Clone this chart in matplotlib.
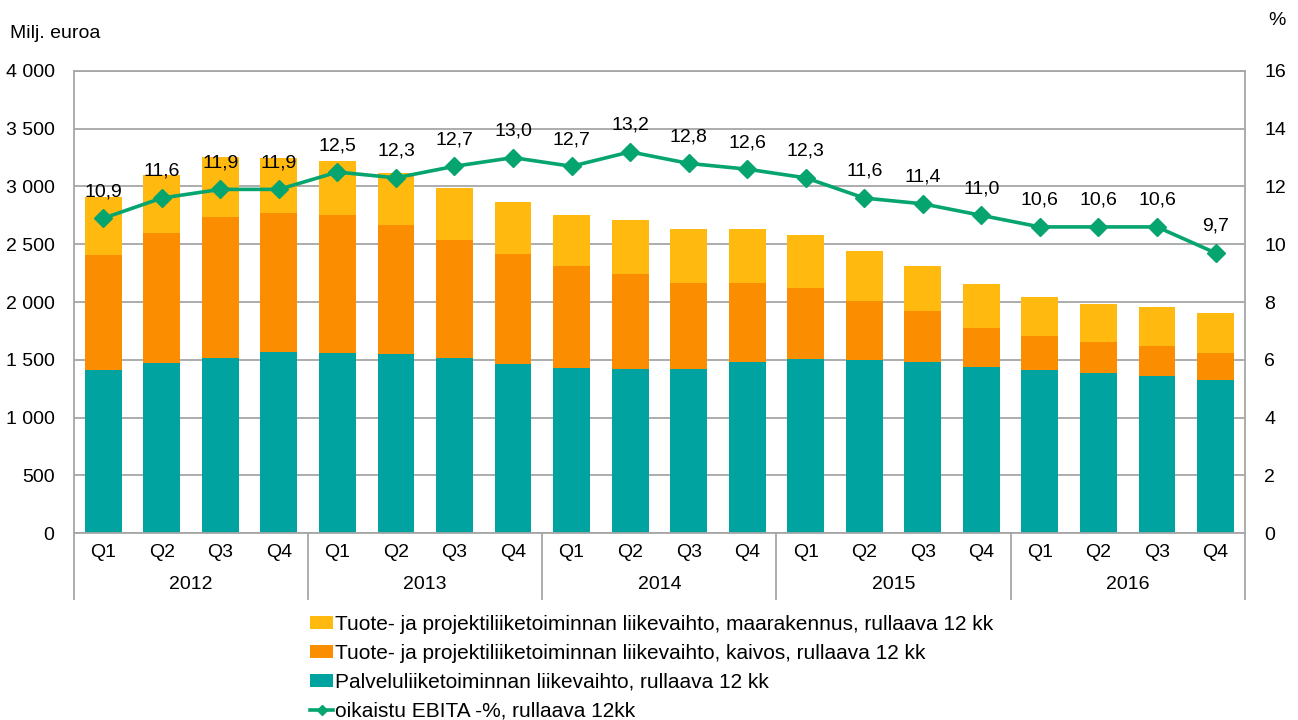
import numpy as np
import matplotlib
matplotlib.use("Agg")
import matplotlib.pyplot as plt
import matplotlib.transforms as mtransforms

plt.rcParams['font.family'] = ['Liberation Sans', 'DejaVu Sans']

quarters = ['Q1', 'Q2', 'Q3', 'Q4'] * 5
years = ['2012', '2013', '2014', '2015', '2016']

palvelu = [1412, 1470, 1518, 1565, 1562, 1550, 1516, 1467, 1432, 1421,
           1418, 1479, 1504, 1499, 1484, 1438, 1412, 1383, 1357, 1328]
kaivos = [992, 1129, 1220, 1202, 1190, 1113, 1020, 948, 882, 824,
          749, 688, 617, 512, 438, 338, 291, 271, 260, 234]
maarakennus = [507, 499, 518, 483, 467, 455, 452, 447, 438, 467,
               462, 462, 458, 430, 392, 377, 340, 326, 343, 345]
ebita = [10.9, 11.6, 11.9, 11.9, 12.5, 12.3, 12.7, 13.0, 12.7, 13.2,
         12.8, 12.6, 12.3, 11.6, 11.4, 11.0, 10.6, 10.6, 10.6, 9.7]

c_teal = '#00A3A0'
c_orange = '#FA8E00'
c_yellow = '#FFB90F'
c_line = '#06A46F'
c_grid = '#A6A6A6'
fs = 14

fig = plt.figure(figsize=(12.98, 7.2), dpi=100)
ax = fig.add_axes([0.057, 0.2597, 0.902, 0.6417])
x = np.arange(len(palvelu))
w = 0.63

b1 = ax.bar(x, palvelu, w, color=c_teal, zorder=2,
            label='Palveluliiketoiminnan liikevaihto, rullaava 12 kk')
b2 = ax.bar(x, kaivos, w, bottom=palvelu, color=c_orange, zorder=2,
            label='Tuote- ja projektiliiketoiminnan liikevaihto, kaivos, rullaava 12 kk')
bot2 = np.array(palvelu) + np.array(kaivos)
b3 = ax.bar(x, maarakennus, w, bottom=bot2, color=c_yellow, zorder=2,
            label='Tuote- ja projektiliiketoiminnan liikevaihto, maarakennus, rullaava 12 kk')

ax.set_ylim(0, 4000)
ax.set_xlim(-0.5, len(x) - 0.5)
ax.set_yticks(np.arange(0, 4001, 500))
ax.set_yticklabels([f'{v:,}'.replace(',', ' ') for v in range(0, 4001, 500)], fontsize=fs)
ax.yaxis.grid(True, color=c_grid, linewidth=1.3, zorder=0)
ax.set_axisbelow(True)
ax.tick_params(axis='y', length=0, pad=14)
ax.set_xticks(x)
ax.set_xticklabels(quarters, fontsize=fs)
ax.tick_params(axis='x', length=0, pad=8)
for s in ax.spines.values():
    s.set_color(c_grid)
    s.set_linewidth(1.3)

ax2 = ax.twinx()
ax2.set_ylim(0, 16)
ax2.set_yticks(np.arange(0, 17, 2))
ax2.tick_params(axis='y', length=0, pad=14, labelsize=fs)
for s in ax2.spines.values():
    s.set_visible(False)
ln, = ax2.plot(x, ebita, color=c_line, linewidth=2.6, marker='D', markersize=9,
               label='oikaistu EBITA -%, rullaava 12kk', zorder=3)
for xi, v in zip(x, ebita):
    ax2.annotate(f'{v:.1f}'.replace('.', ','), (xi, v), xytext=(0, 13),
                 textcoords='offset points', ha='center', va='bottom', fontsize=fs)

# year separators and labels
trans = mtransforms.blended_transform_factory(ax.transData, ax.transAxes)
for b in np.arange(-0.5, len(x), 4):
    ax.plot([b, b], [0, -0.142], transform=trans, color=c_grid, linewidth=1.3, clip_on=False)
for i, yr in enumerate(years):
    ax.text(i * 4 + 1.5, -0.112, yr, transform=trans, ha='center', va='center', fontsize=fs)

fig.text(0.008, 0.953, 'Milj. euroa', fontsize=fs, va='center')
fig.text(0.984, 0.971, '%', fontsize=fs, va='center', ha='center')

leg = fig.legend(handles=[b3, b2, b1, ln], loc='upper left', bbox_to_anchor=(0.2325, 0.158),
                 frameon=False, fontsize=15, handlelength=1.1, handleheight=0.6,
                 handletextpad=0.08, labelspacing=0.48, borderaxespad=0)
leg.legend_handles[3].set_markersize(5)

fig.savefig('out.png', dpi=100)
